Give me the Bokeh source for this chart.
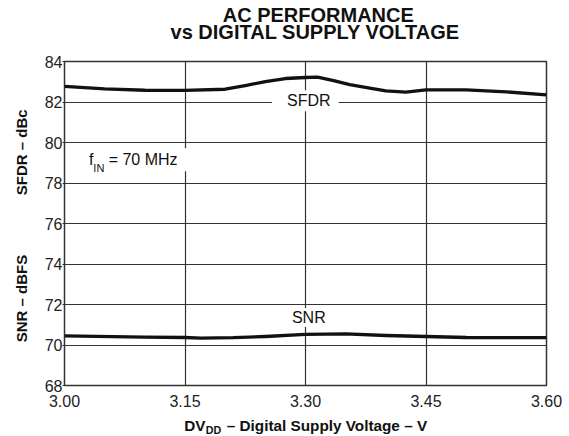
import math
from bokeh.plotting import figure
from bokeh.models import Label, FixedTicker, Range1d, NumeralTickFormatter
from bokeh.embed import file_html
from bokeh.resources import INLINE

# ---- data ----
voltage_sfdr = [3.00, 3.05, 3.10, 3.15, 3.20, 3.225, 3.25, 3.275, 3.30, 3.315,
                3.335, 3.355, 3.38, 3.40, 3.425, 3.45, 3.50, 3.55, 3.60]
sfdr = [82.77, 82.65, 82.58, 82.57, 82.63, 82.81, 83.01, 83.16, 83.21, 83.23,
        83.06, 82.86, 82.68, 82.55, 82.49, 82.60, 82.60, 82.50, 82.35]

voltage_snr = [3.00, 3.10, 3.15, 3.17, 3.21, 3.25, 3.30, 3.35, 3.40, 3.45, 3.50, 3.60]
snr = [70.45, 70.39, 70.37, 70.34, 70.36, 70.42, 70.52, 70.55, 70.47, 70.42, 70.37, 70.36]

x_ticks = [3.00, 3.15, 3.30, 3.45, 3.60]
y_ticks = [68, 70, 72, 74, 76, 78, 80, 82, 84]

title_lines = ["AC PERFORMANCE", "vs DIGITAL SUPPLY VOLTAGE"]
sfdr_axis_label = "SFDR – dBc"
snr_axis_label = "SNR – dBFS"
x_label_parts = ["DV", "DD", "– Digital Supply Voltage – V"]
fin_parts = ["f", "IN", "= 70 MHz"]

FONT = "Liberation Sans"
GRID = "#333333"
NBSP = "\u00a0"

p = figure(width=569, height=436, x_range=Range1d(3.0, 3.6), y_range=Range1d(68, 84),
           output_backend="svg", toolbar_location=None, title=None,
           min_border_left=64, min_border_right=23, min_border_top=61, min_border_bottom=51)
p.background_fill_color = "white"
p.border_fill_color = "white"
p.outline_line_color = GRID
p.outline_line_width = 1.5

p.xaxis.ticker = FixedTicker(ticks=x_ticks)
p.yaxis.ticker = FixedTicker(ticks=y_ticks)
p.xaxis.formatter = NumeralTickFormatter(format="0.00")
p.yaxis.formatter = NumeralTickFormatter(format="0")
for ax in (p.xaxis, p.yaxis):
    ax.axis_line_color = None
    ax.minor_tick_line_color = None
    ax.major_tick_line_color = GRID
    ax.major_label_text_font = FONT
    ax.major_label_text_font_size = "16px"
    ax.major_label_text_color = "#222222"
p.xaxis.major_tick_in = 0
p.xaxis.major_tick_out = 0
p.xaxis.major_label_standoff = 9
p.yaxis.major_tick_in = 6
p.yaxis.major_tick_out = 2
p.yaxis.major_label_standoff = 0

p.xgrid.ticker = FixedTicker(ticks=x_ticks)
p.ygrid.ticker = FixedTicker(ticks=y_ticks)
for g in (p.xgrid, p.ygrid):
    g.grid_line_color = GRID
    g.grid_line_width = 1.2
    g.grid_line_alpha = 1.0

p.line(voltage_sfdr, sfdr, line_color="#111111", line_width=3.3, line_join="round")
p.line(voltage_snr, snr, line_color="#111111", line_width=3.3, line_join="round")


def lab(x, y, text, size, style="normal", align="left", baseline="middle",
        angle=0.0, place=None, **kw):
    l = Label(x=x, y=y, text=text, text_font=FONT, text_font_size=f"{size}px",
              text_font_style=style, text_align=align, text_baseline=baseline,
              angle=angle, text_color="#111111", **kw)
    if place is None:
        p.add_layout(l)
    else:
        p.add_layout(l, place)


# in-plot labels with white backgrounds breaking the grid
lab(3.2998, 82.057, "SFDR", 16, align="center", background_fill_color="white",
    padding=dict(left=15, right=8, top=2, bottom=2))
lab(3.3041, 71.358, "SNR", 16, align="center", background_fill_color="white",
    padding=dict(left=4, right=4, top=1, bottom=1))
lab(3.04, 79.143, fin_parts[2], 16, background_fill_color="white",
    padding=dict(left=12, right=11, top=3, bottom=3))
lab(3.0304, 79.143, fin_parts[0], 16)
lab(3.0359, 78.726, fin_parts[1], 11)

# title (top panel)
lab(3.3159, 86.296, title_lines[0], 20, style="bold", align="center", place="above")
lab(3.3121, 85.449, title_lines[1], 20, style="bold", align="center", place="above")

# y-axis labels (left panel)
lab(2.9466, 79.52, sfdr_axis_label, 15, style="bold", align="center", angle=math.pi / 2, place="left")
lab(2.9466, 72.296, snr_axis_label, 15, style="bold", align="center", angle=math.pi / 2, place="left")

# x-axis label (bottom panel) with subscript (right panel, for layout room)
lab(3.1491, 66.025, x_label_parts[0] + NBSP * 5 + x_label_parts[2], 15.3, style="bold", place="below")
lab(3.1758, 65.798, x_label_parts[1], 10.7, style="bold", place="right")

open("out.html", "w").write(file_html(p, INLINE))
